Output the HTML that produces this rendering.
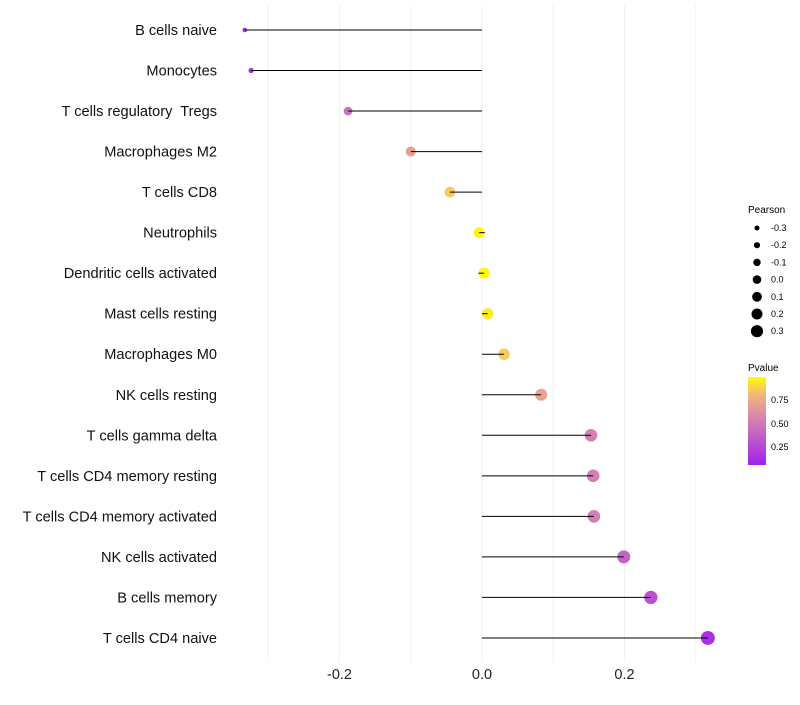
<!DOCTYPE html>
<html><head><meta charset="utf-8"><style>
body{margin:0;background:#fff;font-family:"Liberation Sans",sans-serif}
</style></head><body>
<svg id="chart" width="800" height="700" xmlns="http://www.w3.org/2000/svg">
<defs><linearGradient id="pg" x1="0" y1="1" x2="0" y2="0">
<stop offset="0" stop-color="#a020f0"/><stop offset="0.5" stop-color="#d27fb4"/><stop offset="0.8" stop-color="#f3b67c"/><stop offset="1" stop-color="#ffff00"/></linearGradient></defs>
<g id="grid"></g><g id="marks"></g><g id="labels"></g>
<g font-size="9" fill="#000">
<text x="748" y="213" font-size="10">Pearson</text>
<g id="sizeLegend"></g>
</g>
<g font-size="9">
<text x="748" y="371" font-size="10">Pvalue</text>
<rect x="748" y="377" width="18" height="88" fill="url(#pg)"/>
<text x="771" y="403">0.75</text><text x="771" y="427">0.50</text><text x="771" y="450">0.25</text>
</g>
</svg>
<script>
const categories=["B cells naive","Monocytes","T cells regulatory  Tregs","Macrophages M2","T cells CD8","Neutrophils","Dendritic cells activated","Mast cells resting","Macrophages M0","NK cells resting","T cells gamma delta","T cells CD4 memory resting","T cells CD4 memory activated","NK cells activated","B cells memory","T cells CD4 naive"];
const pearson=[-0.333,-0.324,-0.188,-0.100,-0.045,-0.004,0.003,0.008,0.031,0.083,0.153,0.156,0.157,0.199,0.237,0.317];
const pvalues=[0.07,0.08,0.42,0.68,0.85,0.98,0.98,0.95,0.86,0.70,0.50,0.50,0.50,0.36,0.26,0.09];
const xTicks=[-0.2,0.0,0.2];
const gridVals=[-0.3,-0.2,-0.1,0,0.1,0.2,0.3];
const legendVals=[-0.3,-0.2,-0.1,0.0,0.1,0.2,0.3];
const NS="http://www.w3.org/2000/svg";
const x=v=>482+v*712.5;
const y=i=>30+i*40.53;
const r=v=>2+5*Math.sqrt(Math.max(0,(v+0.335)/0.655));
function lerp(a,b,t){return a.map((c,k)=>Math.round(c+(b[k]-c)*t));}
function col(p){const st=[[0,[160,32,240]],[0.5,[210,127,180]],[0.8,[243,182,124]],[1,[255,255,0]]];
 for(let k=1;k<st.length;k++){if(p<=st[k][0]){const t=(p-st[k-1][0])/(st[k][0]-st[k-1][0]);return 'rgb('+lerp(st[k-1][1],st[k][1],Math.max(0,t)).join(',')+')';}}return 'rgb(255,255,0)';}
function mk(t,a,p){const e=document.createElementNS(NS,t);for(const k in a)e.setAttribute(k,a[k]);p.appendChild(e);return e;}
const grid=document.getElementById('grid'),marks=document.getElementById('marks'),labels=document.getElementById('labels');
gridVals.forEach(v=>{const l=mk('line',{x1:x(v),x2:x(v),y1:5,y2:662,stroke:'#f1f1f1','stroke-width':1},grid);

});
xTicks.forEach(v=>{const t=mk('text',{x:x(v),y:679,'text-anchor':'middle','font-size':14.5,fill:'#222'},labels);t.textContent=v.toFixed(1);

});
categories.forEach((c,i)=>{
 const t=mk('text',{x:217,y:y(i)+5,'text-anchor':'end','font-size':14.6,fill:'#111'},labels);t.textContent=c;
 t.style.whiteSpace='pre';
 
 
 const l=mk('line',{x1:x(0),x2:x(pearson[i]),y1:y(i),y2:y(i),stroke:'#000','stroke-width':1},marks);
 
 
 const d=mk('circle',{cx:x(pearson[i]),cy:y(i),r:r(pearson[i]),fill:col(pvalues[i])},marks);
 
 
 mk('line',{x1:x(pearson[i])+(pearson[i]<0?0:-r(pearson[i])),x2:x(pearson[i])+(pearson[i]<0?r(pearson[i]):0),y1:y(i),y2:y(i),stroke:'#000','stroke-width':1},marks);
});
const sl=document.getElementById('sizeLegend');
legendVals.forEach((v,k)=>{const cy=228+k*17.2;
 const c=mk('circle',{cx:757,cy:cy,r:2.5+k*0.6,fill:'#000'},sl);
 
 
 const t=mk('text',{x:771,y:cy+3,'font-size':9},sl);t.textContent=v.toFixed(1);
 
 });
</script>
</body></html>
